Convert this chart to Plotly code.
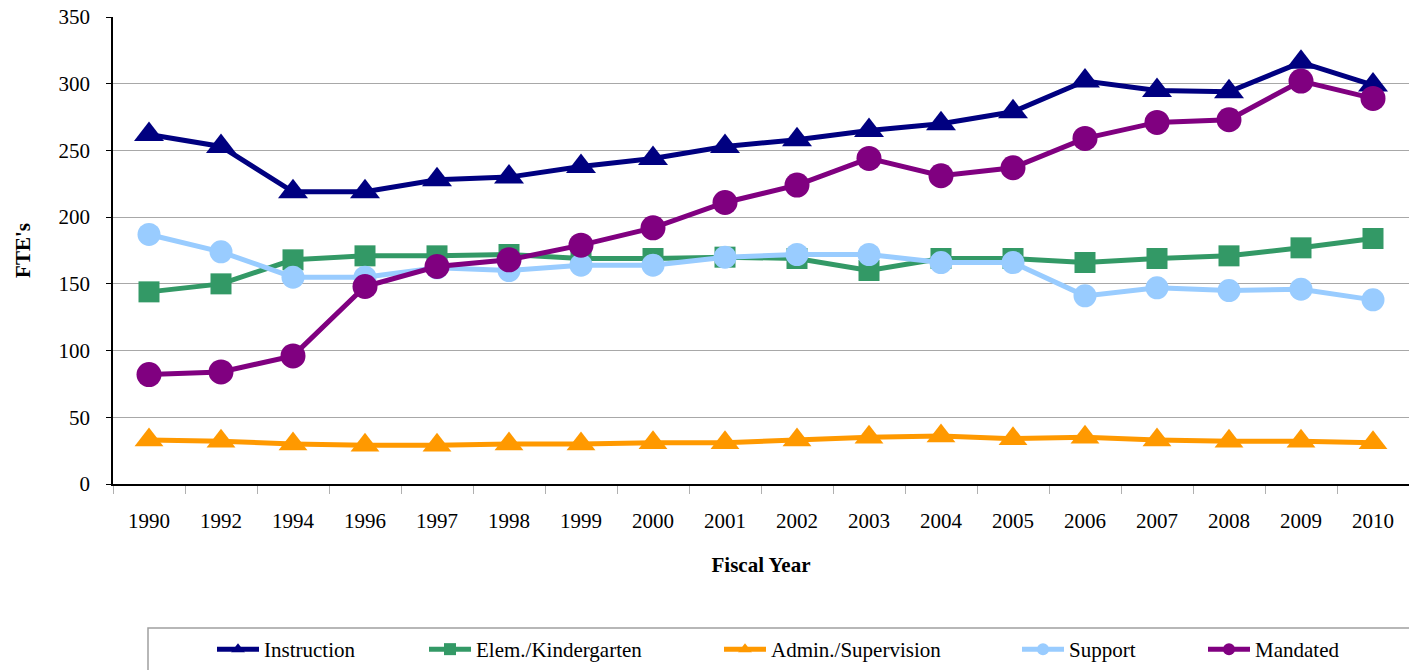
import plotly.graph_objects as go

years = ["1990", "1992", "1994", "1996", "1997", "1998", "1999", "2000", "2001",
         "2002", "2003", "2004", "2005", "2006", "2007", "2008", "2009", "2010"]
instruction = [262, 253, 219, 219, 228, 230, 238, 244, 253, 258, 265, 270, 279, 302, 295, 294, 316, 299]
elem_kinder = [144, 150, 168, 171, 171, 172, 169, 169, 170, 169, 160, 169, 169, 166, 169, 171, 177, 184]
admin_super = [33, 32, 30, 29, 29, 30, 30, 31, 31, 33, 35, 36, 34, 35, 33, 32, 32, 31]
support = [187, 174, 155, 155, 162, 160, 164, 164, 170, 172, 172, 166, 166, 141, 147, 145, 146, 138]
mandated = [82, 84, 96, 148, 163, 168, 179, 192, 211, 224, 244, 231, 237, 259, 271, 273, 302, 289]

series = [
    ("Instruction", instruction, "#000080", "triangle-up", 26),
    ("Elem./Kindergarten", elem_kinder, "#339966", "square", 21),
    ("Admin./Supervision", admin_super, "#FF9900", "triangle-up", 25),
    ("Support", support, "#99CCFF", "circle", 23),
    ("Mandated", mandated, "#800080", "circle", 25),
]

FONT = "Liberation Serif"
PLOT_L, PLOT_W, PLOT_T, PLOT_H = 113, 1296, 17, 467
legend_left_px = [212, 424, 719, 1017, 1203]

fig = go.Figure()
legend_defs = {}
for i, (name, vals, color, sym, size) in enumerate(series):
    lname = "legend" if i == 0 else f"legend{i + 1}"
    fig.add_trace(go.Scatter(
        x=years, y=vals, name=name, mode="lines+markers",
        line=dict(color=color, width=5),
        marker=dict(color=color, symbol=sym, size=size, line=dict(width=0)),
        legend=lname,
    ))
    legend_defs[lname] = dict(
        orientation="h",
        x=(legend_left_px[i] - PLOT_L) / PLOT_W, xanchor="left",
        y=-(650 - (PLOT_T + PLOT_H)) / PLOT_H, yanchor="middle",
        font=dict(family=FONT, size=21, color="black"),
        itemsizing="constant", itemwidth=42,
        bgcolor="rgba(0,0,0,0)", borderwidth=0,
    )

fig.update_layout(
    width=1409, height=670,
    margin=dict(l=PLOT_L, r=0, t=PLOT_T, b=670 - PLOT_T - PLOT_H),
    paper_bgcolor="white", plot_bgcolor="white",
    font=dict(family=FONT, size=20, color="black"),
    showlegend=True,
    xaxis=dict(
        type="category", showgrid=False, range=[-0.5, 17.5],
        showline=True, linecolor="black", linewidth=1.5,
        ticks="outside", tickson="boundaries", ticklen=8, tickcolor="#B0B0B0",
        ticklabelstandoff=17,
        tickfont=dict(family=FONT, size=21, color="black"),
        title=dict(text="<b>Fiscal Year</b>", font=dict(family=FONT, size=21, color="black"), standoff=25),
    ),
    yaxis=dict(
        range=[0, 350], dtick=50, tick0=0,
        showgrid=True, gridcolor="#A8A8A8", gridwidth=1,
        showline=True, linecolor="black", linewidth=1.5,
        ticks="outside", ticklen=5, tickcolor="black",
        ticklabelstandoff=12,
        tickfont=dict(family=FONT, size=21, color="black"),
        zeroline=False,
        title=dict(text="<b>FTE's</b>", font=dict(family=FONT, size=21, color="black"), standoff=22),
    ),
    shapes=[dict(
        type="rect", xref="paper", yref="paper",
        x0=(148 - PLOT_L) / PLOT_W, x1=1.02,
        y0=-(628 - 484) / PLOT_H, y1=-(675 - 484) / PLOT_H,
        line=dict(color="#A0A0A0", width=1.5), fillcolor="rgba(0,0,0,0)",
        layer="below",
    )],
    **legend_defs,
)

fig.write_html("out.html")
